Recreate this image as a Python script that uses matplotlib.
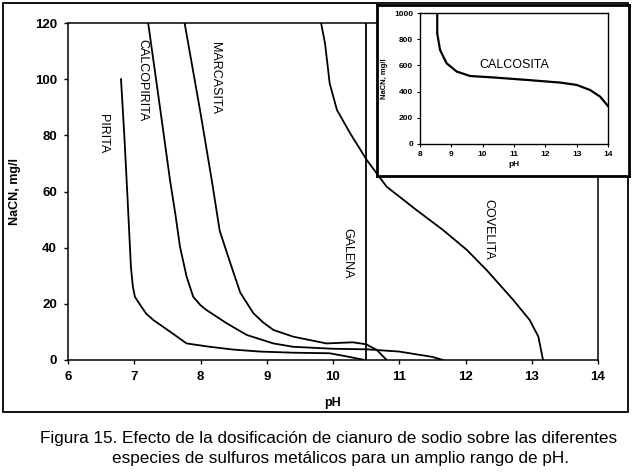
import matplotlib
matplotlib.use("Agg")
import matplotlib.pyplot as plt
from matplotlib.patches import Rectangle

plt.rcParams['font.family'] = ['Liberation Sans', 'DejaVu Sans']

# main chart data (pH, NaCN mg/l)
pirita_ph = [6.80, 6.85, 6.90, 6.95, 6.98, 7.01, 7.09, 7.18, 7.29, 7.54, 7.79, 8.14, 8.50, 8.90, 9.40, 9.95, 10.20, 10.46]
pirita = [100, 80, 57, 33, 26, 22.5, 19.6, 16.5, 14.2, 10.1, 5.9, 4.7, 3.7, 3.0, 2.6, 2.4, 1.3, 0.1]

calcopirita_ph = [7.21, 7.40, 7.54, 7.62, 7.69, 7.79, 7.89, 8.00, 8.09, 8.40, 8.70, 9.10, 9.40, 10.00, 10.51, 11.00, 11.50, 11.66]
calcopirita = [120, 88, 64, 52, 40.4, 29.7, 22.5, 19.5, 17.8, 13.0, 8.9, 5.9, 4.7, 4.0, 3.8, 3.0, 1.1, 0]

marcasita_ph = [7.76, 8.00, 8.17, 8.29, 8.45, 8.60, 8.80, 8.95, 9.10, 9.40, 9.90, 10.30, 10.50, 10.66, 10.81]
marcasita = [120, 88, 64, 46, 34.5, 24, 16.6, 13.3, 10.7, 8.3, 5.9, 6.3, 5.6, 3.6, 0]

covelita_ph = [9.82, 9.88, 9.95, 10.06, 10.26, 10.51, 10.81, 11.26, 11.66, 12.02, 12.32, 12.72, 12.97, 13.10, 13.17]
covelita = [120, 112.7, 98.5, 89, 80.7, 71.2, 61.7, 53.4, 46.3, 39.2, 32, 21.4, 14.2, 8.3, 0]

galena_ph = [10.5, 10.5]
galena = [0, 120]

# inset data
calcosita_ph = [8.55, 8.55, 8.64, 8.85, 9.17, 9.60, 10.34, 11.41, 12.47, 13.00, 13.43, 13.75, 14.0]
calcosita = [1000, 843, 718, 616, 553, 519, 508, 489, 469, 451, 412, 361, 290]

x_ticks = [6, 7, 8, 9, 10, 11, 12, 13, 14]
y_ticks = [0, 20, 40, 60, 80, 100, 120]
inset_x_ticks = [8, 9, 10, 11, 12, 13, 14]
inset_y_ticks = [0, 200, 400, 600, 800, 1000]

W, H = 636, 476
fig = plt.figure(figsize=(W / 100, H / 100), dpi=100)


def fbox(x0, y0, x1, y1):
    # pixel box (top-left origin) -> figure fraction rect
    return [x0 / W, 1 - y1 / H, (x1 - x0) / W, (y1 - y0) / H]


# outer frame
fr = fbox(3, 3, 628, 412)
fig.add_artist(Rectangle((fr[0], fr[1]), fr[2], fr[3], transform=fig.transFigure,
                         fill=False, lw=1.3, ec='black', zorder=0))

ax = fig.add_axes(fbox(68, 23, 598, 360))
lw = 1.3
ax.plot(pirita_ph, pirita, color='black', lw=lw)
ax.plot(calcopirita_ph, calcopirita, color='black', lw=lw)
ax.plot(marcasita_ph, marcasita, color='black', lw=lw)
ax.plot(covelita_ph, covelita, color='black', lw=lw)
ax.plot(galena_ph, galena, color='black', lw=lw)

ax.set_xlim(6, 14)
ax.set_ylim(0, 120)
ax.set_xticks(x_ticks)
ax.set_yticks(y_ticks)
ax.tick_params(direction='out', length=3, width=1, labelsize=9.5, pad=5)
for lab in ax.get_xticklabels() + ax.get_yticklabels():
    lab.set_fontweight('bold')
for s in ax.spines.values():
    s.set_linewidth(1.1)
ax.set_xlabel('pH', fontsize=9, fontweight='bold', labelpad=10)
ax.set_ylabel('NaCN, mg/l', fontsize=9, fontweight='bold', labelpad=10)

lab_kw = dict(rotation=-90, fontsize=9, ha='center', va='center')
ax.text(6.53, 80.5, 'PIRITA', **lab_kw)
ax.text(7.12, 99.5, 'CALCOPIRITA', **lab_kw)
ax.text(8.22, 100.5, 'MARCASITA', **lab_kw)
ax.text(10.22, 38, 'GALENA', **lab_kw)
ax.text(12.34, 46.5, 'COVELITA', **lab_kw)

# inset frame box
frame = fig.add_axes(fbox(377, 5, 629, 176))
frame.set_xticks([])
frame.set_yticks([])
frame.set_zorder(2)
for s in frame.spines.values():
    s.set_linewidth(2)

ins = fig.add_axes(fbox(420, 13, 608, 144))
ins.set_zorder(3)
ins.plot(calcosita_ph, calcosita, color='black', lw=1.6)
ins.set_xlim(8, 14)
ins.set_ylim(0, 1000)
ins.set_xticks(inset_x_ticks)
ins.set_yticks(inset_y_ticks)
ins.tick_params(direction='out', length=2, width=0.8, labelsize=6, pad=3)
for lab in ins.get_xticklabels() + ins.get_yticklabels():
    lab.set_fontweight('bold')
ins.set_xlabel('pH', fontsize=6, fontweight='bold', labelpad=2)
ins.set_ylabel('NaCN, mg/l', fontsize=5.5, fontweight='bold', labelpad=4)
ins.text(11.0, 600, 'CALCOSITA', fontsize=9, ha='center', va='center')
for s in ins.spines.values():
    s.set_linewidth(1)

# caption
fig.text(40 / W, 1 - 438 / H, 'Figura 15. Efecto de la dosificación de cianuro de sodio sobre las diferentes',
         fontsize=12.3, ha='left', va='center')
fig.text(112 / W, 1 - 459 / H, 'especies de sulfuros metálicos para un amplio rango de pH.',
         fontsize=12.3, ha='left', va='center')

fig.savefig('out.png', dpi=100)
